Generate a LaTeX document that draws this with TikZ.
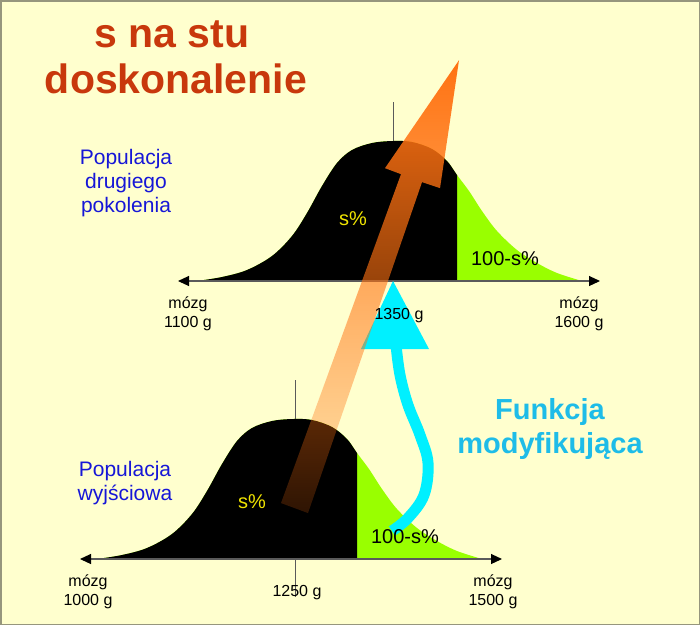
\documentclass[tikz,border=0pt]{standalone}
\usepackage{fontspec}
\setmainfont{Liberation Sans}
\usetikzlibrary{arrows.meta,fadings}
\definecolor{bgc}{RGB}{255,255,206}
\definecolor{framec}{RGB}{150,150,125}
\definecolor{greenc}{RGB}{153,255,0}
\definecolor{titlec}{RGB}{200,56,12}
\definecolor{bluec}{RGB}{22,22,215}
\definecolor{yellowc}{RGB}{240,228,0}
\definecolor{cyanc}{RGB}{0,240,255}
\definecolor{funkc}{RGB}{30,188,232}
\definecolor{orangec}{RGB}{255,114,18}
\definecolor{axisc}{RGB}{90,90,90}
\tikzfading[name=arrowfade, top color=transparent!0, bottom color=transparent!82]
\tikzset{
  axisline/.style={draw=axisc, line width=1.1pt, {Triangle[length=11pt,width=10pt,color=black]}-{Triangle[length=11pt,width=10pt,color=black]}},
  vline/.style={draw=axisc, line width=0.8pt},
  lbl/.style={anchor=base, inner sep=0pt, font=\fontsize{16}{19}\selectfont},
  pct/.style={anchor=base, inner sep=0pt, font=\fontsize{20}{24}\selectfont},
  poplbl/.style={anchor=base, inner sep=0pt, text=bluec, font=\fontsize{21}{25}\selectfont},
  funlbl/.style={anchor=base, inner sep=0pt, text=funkc, font=\fontsize{29}{34}\selectfont\bfseries},
  titlelbl/.style={anchor=base, inner sep=0pt, text=titlec, font=\fontsize{41}{46}\selectfont\bfseries},
}
\begin{document}
\begin{tikzpicture}[x=1pt,y=-1pt]
\path[use as bounding box, fill=bgc] (0,0) rectangle (700,625);
\draw[framec, line width=1.5pt] (0.75,0.75) rectangle (699.25,624.25);

% vertical mean lines
\draw[vline] (393,102) -- (393,318);
\draw[vline] (295,380) -- (295,597);

% bell curves
\foreach \sx/\sy in {197/281, 97/559} {
  \begin{scope}[shift={(\sx,\sy)}]
    \fill[greenc] plot[smooth, tension=0.55] coordinates {(0,0) (25,-4) (50,-11) (75,-25) (95,-45) (110,-68) (125,-95) (140,-118) (155,-131) (175,-138) (196,-140) (215,-139) (235,-132) (250,-120) (260,-106) (272,-90) (285,-70) (300,-50) (320,-31) (340,-18) (360,-8) (385,0)} -- cycle;
    \begin{scope}
      \clip (-5,5) rectangle (260,-150);
      \fill[black] plot[smooth, tension=0.55] coordinates {(0,0) (25,-4) (50,-11) (75,-25) (95,-45) (110,-68) (125,-95) (140,-118) (155,-131) (175,-138) (196,-140) (215,-139) (235,-132) (250,-120) (260,-106) (272,-90) (285,-70) (300,-50) (320,-31) (340,-18) (360,-8) (385,0)} -- cycle;
    \end{scope}
  \end{scope}
}

% axes
\coordinate (a1l) at (178,281); \coordinate (a1r) at (600,281);
\coordinate (a2l) at (80,559);  \coordinate (a2r) at (502,559);
\draw[axisline] (a1l) -- (a1r);
\draw[axisline] (a2l) -- (a2r);

% cyan modifying function arrow
\coordinate (cstart) at (392,531);
\coordinate (cend) at (396,345);
\draw[cyanc, line width=11pt] plot[smooth, tension=0.6] coordinates {(cstart) (408,518) (424,495) (428,463) (420,435) (408,405) (400,375) (cend)};
\fill[cyanc] (393,281) -- (429,349) -- (361,349) -- cycle;

% big orange arrow with fading
\fill[orangec, path fading=arrowfade] (459,60) -- (440,188) -- (422,182) -- (308,513) -- (281,503) -- (401,174) -- (385,168) -- cycle;

% title
\node[titlelbl] (t1) at (172,47) {s na stu};
\node[titlelbl] (t2) at (176,93) {doskonalenie};

% population labels
\node[poplbl] (p1) at (126,164) {Populacja};
\node[poplbl] (p2) at (126,188) {drugiego};
\node[poplbl] (p3) at (126,212) {pokolenia};
\node[poplbl] (q1) at (125,476) {Populacja};
\node[poplbl] (q2) at (125,500) {wyjściowa};

% percentages
\node[pct, text=yellowc] (s1) at (353,225) {s\%};
\node[pct] (r1) at (505,265) {100-s\%};
\node[pct, text=yellowc] (s2) at (252,508) {s\%};
\node[pct] (r2) at (405,543) {100-s\%};

% axis labels
\node[lbl] (m1a) at (188,308) {mózg};
\node[lbl] (m1b) at (188,327) {1100 g};
\node[lbl] (m2a) at (579,308) {mózg};
\node[lbl] (m2b) at (579,327) {1600 g};
\node[lbl] (c1) at (399,319) {1350 g};
\node[lbl] (m3a) at (88,586) {mózg};
\node[lbl] (m3b) at (88,605) {1000 g};
\node[lbl] (m4a) at (493,586) {mózg};
\node[lbl] (m4b) at (493,605) {1500 g};
\node[lbl] (c2) at (297,596) {1250 g};

% function label
\node[funlbl] (f1) at (550,419) {Funkcja};
\node[funlbl] (f2) at (550,453) {modyfikująca};
\end{tikzpicture}
\end{document}
